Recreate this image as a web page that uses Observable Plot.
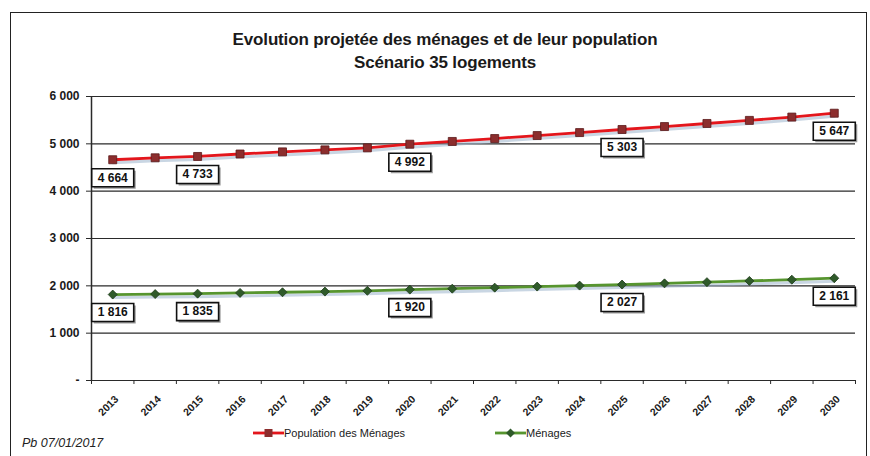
<!DOCTYPE html>
<html><head><meta charset="utf-8">
<script src="https://cdn.jsdelivr.net/npm/d3@7"></script>
<script src="https://cdn.jsdelivr.net/npm/@observablehq/plot@0.6"></script>
<style>
body{margin:0;background:#fff;}
#wrap{position:relative;width:870px;height:456px;overflow:hidden;background:#fff;font-family:"Liberation Sans",Arial,sans-serif;color:#1a1a1a;}
#border{position:absolute;left:10px;top:12px;width:857px;height:470px;border:1.5px solid #222;box-sizing:border-box;}
#title{position:absolute;left:0;width:890px;top:28px;text-align:center;font-weight:bold;font-size:17px;line-height:23px;letter-spacing:-0.15px;}
#chart{position:absolute;left:0;top:80px;}
.leg{position:absolute;top:425px;font-size:11px;display:flex;align-items:center;height:16px;}
#caption{position:absolute;left:22px;top:436px;font-style:italic;font-size:12.5px;color:#222;}
</style></head>
<body><div id="wrap">
<div id="border"></div>
<div id="title">Evolution projetée des ménages et de leur population<br>Scénario 35 logements</div>
<div id="chart"></div>
<div class="leg" id="leg1" style="left:253px"></div>
<div class="leg" id="leg2" style="left:495px"></div>
<div id="caption">Pb 07/01/2017</div>
</div>
<script>
const years = [2013,2014,2015,2016,2017,2018,2019,2020,2021,2022,2023,2024,2025,2026,2027,2028,2029,2030];
const population = [4664,4705,4733,4785,4830,4872,4915,4992,5050,5112,5175,5238,5303,5365,5430,5495,5565,5647];
const menages = [1816,1826,1835,1850,1864,1878,1895,1920,1940,1962,1984,2005,2027,2052,2078,2104,2130,2161];
const labelYears = [2013,2015,2020,2025,2030];
const yTicks = [0,1000,2000,3000,4000,5000,6000];
const yTickLabels = ["-","1 000","2 000","3 000","4 000","5 000","6 000"];
const seriesNames = ["Population des Ménages","Ménages"];

const RED = "#e3161c", RED_MK = "#8c2d2d", GREEN = "#57952f", GREEN_MK = "#2f5a2a";
const fr = d3.formatLocale({decimal:",", thousands:"\u00a0", grouping:[3]}).format(",d");

const popData = years.map((y,i)=>({year:y, value:population[i]}));
const menData = years.map((y,i)=>({year:y, value:menages[i]}));
const popLab = popData.filter(d=>labelYears.includes(d.year));
const menLab = menData.filter(d=>labelYears.includes(d.year));
const bounds = [years[0]-0.5, ...years.map(y=>y+0.5)];

const box = {draw(ctx){ctx.moveTo(-21,-9);ctx.lineTo(21,-9);ctx.lineTo(21,9);ctx.lineTo(-21,9);ctx.closePath();}};
const diamond = {draw(ctx){ctx.moveTo(0,-4.5);ctx.lineTo(4.5,0);ctx.lineTo(0,4.5);ctx.lineTo(-4.5,0);ctx.closePath();}};
const square = {draw(ctx){ctx.moveTo(-4,-4);ctx.lineTo(4,-4);ctx.lineTo(4,4);ctx.lineTo(-4,4);ctx.closePath();}};

function labels(data){
  return [
    Plot.dot(data,{x:"year",y:"value",symbol:box,fill:"#9a9a9a",stroke:"none",dx:2,dy:20}),
    Plot.dot(data,{x:"year",y:"value",symbol:box,fill:"white",stroke:"#111",strokeWidth:1.6,dy:18}),
    Plot.text(data,{x:"year",y:"value",text:d=>fr(d.value),dy:18,fontSize:12,fontWeight:"bold",fill:"#111"})
  ];
}

const plot = Plot.plot({
  width:870, height:345,
  marginLeft:91, marginRight:15, marginTop:16, marginBottom:45,
  style:{fontFamily:"'Liberation Sans', Arial, sans-serif", background:"transparent"},
  x:{type:"linear", domain:[years[0]-0.5, years[years.length-1]+0.5]},
  y:{domain:[0,6000]},
  marks:[
    Plot.ruleY(yTicks,{stroke:"#2a2a2a",strokeWidth:1.2}),
    Plot.ruleX([bounds[0]],{y1:0,y2:6000,stroke:"#2a2a2a",strokeWidth:1.5}),
    Plot.axisY({ticks:yTicks, tickFormat:d=>yTickLabels[yTicks.indexOf(d)], tickSize:5, tickPadding:7, fontSize:12, fontWeight:"bold", label:null, stroke:"#2a2a2a"}),
    Plot.axisX({ticks:bounds, tickFormat:()=>"", tickSize:4, label:null, stroke:"#2a2a2a"}),
    Plot.text(years,{x:d=>d, y:()=>0, text:d=>String(d), rotate:-45, textAnchor:"end", dx:4, dy:17, fontSize:10.5, fontWeight:"bold", fill:"#1a1a1a"}),
    Plot.line(popData,{x:"year",y:"value",stroke:"#9db5cc",strokeOpacity:0.55,strokeWidth:3,dy:3}),
    Plot.line(menData,{x:"year",y:"value",stroke:"#9db5cc",strokeOpacity:0.55,strokeWidth:3,dy:3}),
    Plot.line(popData,{x:"year",y:"value",stroke:RED,strokeWidth:2.8}),
    Plot.line(menData,{x:"year",y:"value",stroke:GREEN,strokeWidth:2.8}),
    Plot.dot(popData,{x:"year",y:"value",symbol:square,fill:RED_MK,stroke:"#5a1a1a",strokeWidth:0.8}),
    Plot.dot(menData,{x:"year",y:"value",symbol:diamond,fill:GREEN_MK,stroke:"#1e3a1a",strokeWidth:0.8}),
    ...labels(popLab),
    ...labels(menLab)
  ]
});
document.getElementById("chart").appendChild(plot);

function swatch(color, mk, pathD){
  const s = d3.create("svg").attr("width",31).attr("height",16);
  s.append("line").attr("x1",0).attr("x2",31).attr("y1",8).attr("y2",8).attr("stroke",color).attr("stroke-width",2.8);
  s.append("path").attr("transform","translate(15.5,8)").attr("d",pathD).attr("fill",mk);
  return s.node();
}
const l1 = document.getElementById("leg1");
l1.appendChild(swatch(RED, RED_MK, "M-4,-4L4,-4L4,4L-4,4Z"));
l1.appendChild(Object.assign(document.createElement("span"),{textContent:seriesNames[0]}));
const l2 = document.getElementById("leg2");
l2.appendChild(swatch(GREEN, GREEN_MK, "M0,-4.5L4.5,0L0,4.5L-4.5,0Z"));
l2.appendChild(Object.assign(document.createElement("span"),{textContent:seriesNames[1]}));
</script>
</body></html>
